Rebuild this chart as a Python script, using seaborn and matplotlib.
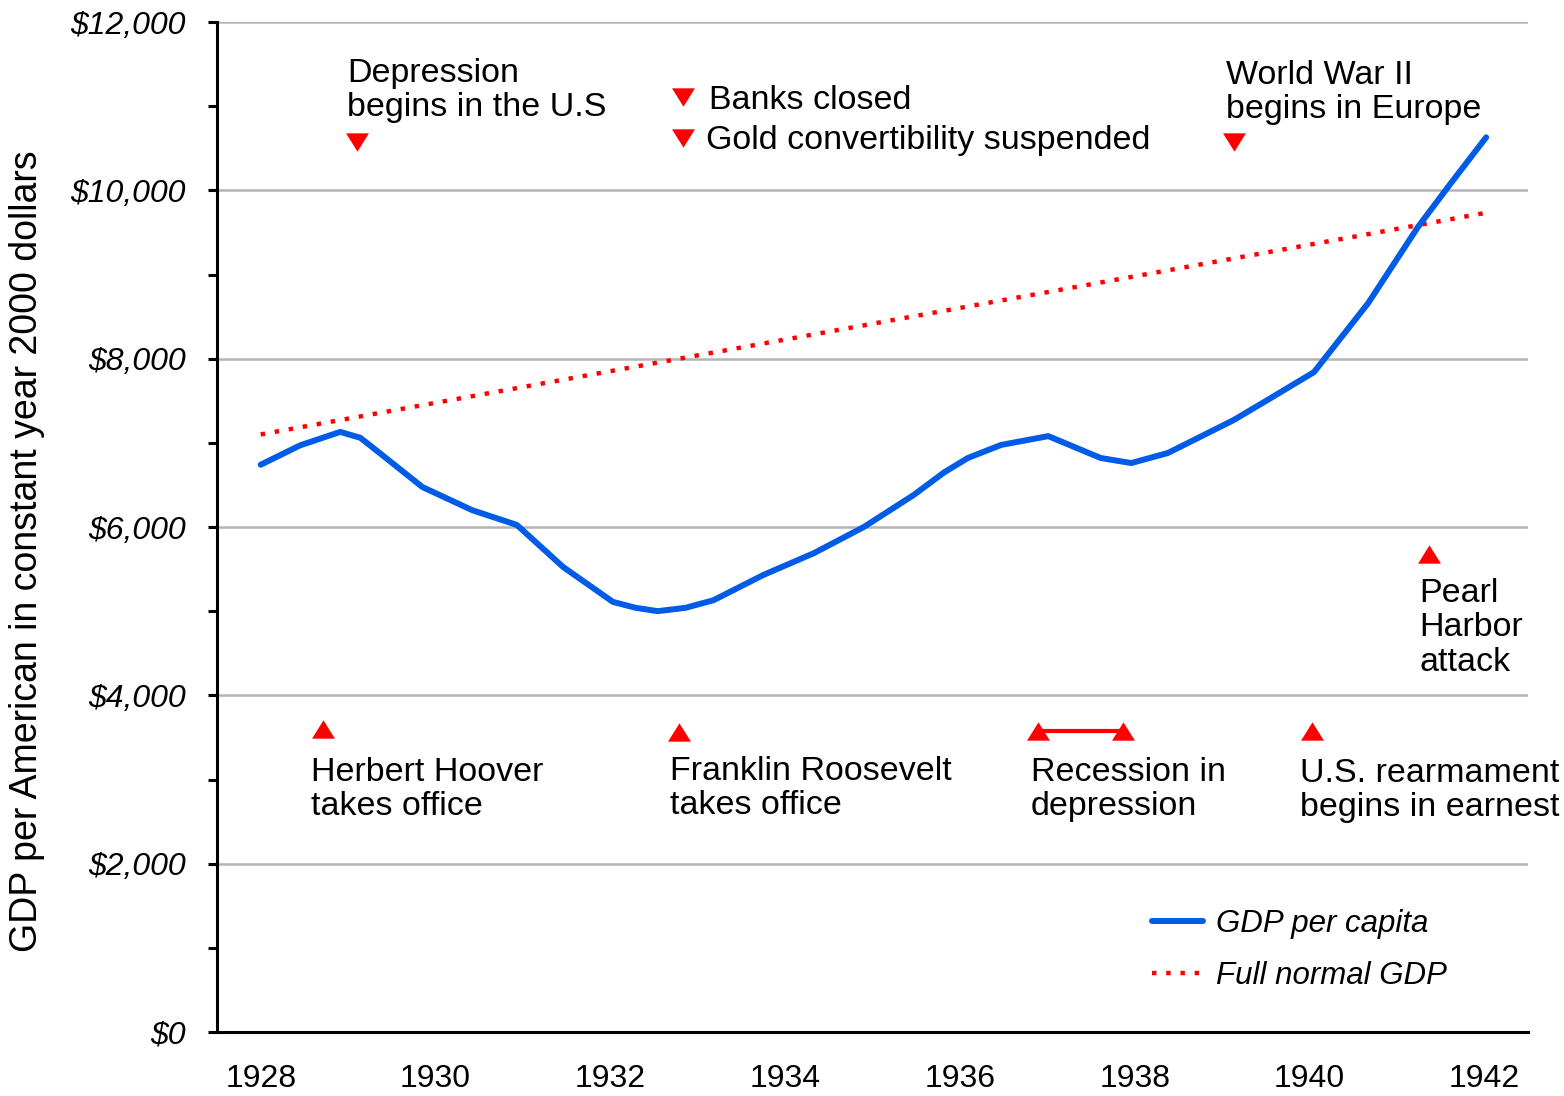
import pandas as pd
import seaborn as sns
import matplotlib.pyplot as plt

# GDP per American, constant year 2000 dollars
gdp_years = [1928.0, 1928.45, 1928.91, 1929.14, 1929.36, 1929.85, 1930.42, 1930.93,
             1931.46, 1932.03, 1932.29, 1932.54, 1932.86, 1933.18, 1933.75, 1934.33,
             1934.90, 1935.47, 1935.82, 1936.09, 1936.47, 1937.01, 1937.61, 1937.96,
             1938.38, 1939.13, 1939.52, 1940.05, 1940.67, 1941.24, 1941.62, 1942.02]
gdp_values = [6740, 6970, 7130, 7060, 6880, 6475, 6200, 6025,
              5525, 5110, 5040, 5000, 5040, 5130, 5430, 5690,
              6000, 6380, 6650, 6820, 6975, 7080, 6820, 6760,
              6880, 7270, 7510, 7840, 8660, 9565, 10090, 10630]

normal_years = [1928.0, 1942.0]
normal_values = [7100, 9730]

# event markers: (year, value)
down_events = {"Depression": (1929.10, 10570), "Banks closed": (1932.83, 11110),
               "Gold": (1932.83, 10620), "WWII": (1939.14, 10570)}
up_events = {"Hoover": (1928.71, 3600), "Roosevelt": (1932.79, 3560),
             "Rearmament": (1940.03, 3580), "Pearl Harbor": (1941.37, 5680)}
recession_years = [1936.89, 1937.87]
recession_values = [3580, 3580]

sns.set_style("white")
plt.rcParams['font.family'] = ['Liberation Sans', 'DejaVu Sans']
plt.rcParams['text.color'] = 'black'
plt.rcParams['axes.labelcolor'] = 'black'
plt.rcParams['xtick.color'] = 'black'
plt.rcParams['ytick.color'] = 'black'

fig = plt.figure(figsize=(15.64, 10.96), dpi=100)
ax = fig.add_axes([0.13875, 0.0584, 0.8383, 0.9215])

normal_df = pd.DataFrame({"year": normal_years, "gdp": normal_values})
gdp_df = pd.DataFrame({"year": gdp_years, "gdp": gdp_values})

sns.lineplot(data=normal_df, x="year", y="gdp", ax=ax, color="#ff0000", lw=3.2,
             linestyle=(0, (1.0, 2.2)), label="Full normal GDP", zorder=3)
sns.lineplot(data=gdp_df, x="year", y="gdp", ax=ax, color="#005ce6", lw=4.3,
             label="GDP per capita", zorder=4)

down_tri = [(-1, 0.8), (1, 0.8), (0, -0.8)]
up_tri = [(-1, -0.8), (1, -0.8), (0, 0.8)]
for x, y in down_events.values():
    ax.plot(x, y, marker=down_tri, ms=16.5, color="#ff0000", mew=0, ls="none", zorder=5)
for x, y in up_events.values():
    ax.plot(x, y, marker=up_tri, ms=16.5, color="#ff0000", mew=0, ls="none", zorder=5)
ax.plot(recession_years, recession_values, color="#ff0000", lw=3, marker=up_tri,
        ms=16.5, mew=0, zorder=5)

txt = dict(fontsize=24.5, va="top", ha="left", linespacing=1.13, color="black")
ax.text(1928.99, 11570, "Depression\nbegins in the U.S", **txt)
ax.text(1933.13, 11250, "Banks closed", **txt)
ax.text(1933.09, 10780, "Gold convertibility suspended", **txt)
ax.text(1939.04, 11550, "World War II\nbegins in Europe", **txt)
ax.text(1941.26, 5390, "Pearl\nHarbor\nattack", **txt)
ax.text(1939.89, 3260, "U.S. rearmament\nbegins in earnest", **txt)
ax.text(1928.58, 3270, "Herbert Hoover\ntakes office", **txt)
ax.text(1932.68, 3280, "Franklin Roosevelt\ntakes office", **txt)
ax.text(1936.81, 3270, "Recession in\ndepression", **txt)

ax.set_xlim(1927.5, 1942.5)
ax.set_ylim(0, 12000)

# year boundaries carry the tick marks, labels sit at year centres
ax.set_xticks([1927.5 + i for i in range(16)])
ax.set_xticklabels([])
label_years = [1928, 1930, 1932, 1934, 1936, 1938, 1940, 1942]
ax.set_xticks(label_years, minor=True)
ax.set_xticklabels([str(y) for y in label_years], minor=True, fontsize=23)
ax.tick_params(axis="x", which="major", direction="out", length=4.5, width=2.2, color="black")
ax.tick_params(axis="x", which="minor", length=0, pad=23)

y_major = [0, 2000, 4000, 6000, 8000, 10000, 12000]
ax.set_yticks(y_major)
ax.set_yticklabels([f"${v:,}" for v in y_major], fontsize=23, fontstyle="italic")
ax.set_yticks([1000, 3000, 5000, 7000, 9000, 11000], minor=True)
ax.tick_params(axis="y", which="both", direction="out", length=6.5, width=2.2,
               color="black", left=True, pad=16)

ax.grid(axis="y", which="major", color="#b4b4b4", lw=1.8)
ax.grid(axis="x", visible=False)
ax.set_axisbelow(True)

for side in ["top", "right"]:
    ax.spines[side].set_visible(False)
for side in ["left", "bottom"]:
    ax.spines[side].set_color("black")
    ax.spines[side].set_linewidth(2.2)

ax.set_xlabel("")
ax.set_ylabel("GDP per American in constant year 2000 dollars", fontsize=27)
ax.yaxis.set_label_coords(-0.131, 0.476)

handles, labels = ax.get_legend_handles_labels()
leg = ax.legend(handles[::-1], labels[::-1], loc="center left", bbox_to_anchor=(0.713, 0.081),
                frameon=False, borderpad=0, borderaxespad=0, handlelength=1.65,
                handletextpad=0.4, labelspacing=0.7, prop={"size": 22.5, "style": "italic"})

fig.savefig("out.png", dpi=100)
